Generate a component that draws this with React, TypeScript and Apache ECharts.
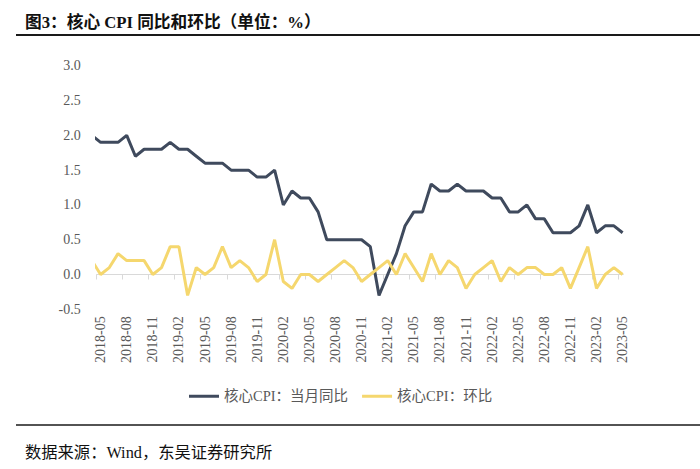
import React, { useEffect, useRef } from "react";
import * as echarts from "echarts";

// ---- data ----
const MONTHS = [
  "2018-04", "2018-05", "2018-06", "2018-07", "2018-08", "2018-09", "2018-10", "2018-11", "2018-12",
  "2019-01", "2019-02", "2019-03", "2019-04", "2019-05", "2019-06", "2019-07", "2019-08", "2019-09", "2019-10", "2019-11", "2019-12",
  "2020-01", "2020-02", "2020-03", "2020-04", "2020-05", "2020-06", "2020-07", "2020-08", "2020-09", "2020-10", "2020-11", "2020-12",
  "2021-01", "2021-02", "2021-03", "2021-04", "2021-05", "2021-06", "2021-07", "2021-08", "2021-09", "2021-10", "2021-11", "2021-12",
  "2022-01", "2022-02", "2022-03", "2022-04", "2022-05", "2022-06", "2022-07", "2022-08", "2022-09", "2022-10", "2022-11", "2022-12",
  "2023-01", "2023-02", "2023-03", "2023-04", "2023-05",
];

const CORE_YOY = [
  2.0, 1.9, 1.9, 1.9, 2.0, 1.7, 1.8, 1.8, 1.8,
  1.9, 1.8, 1.8, 1.7, 1.6, 1.6, 1.6, 1.5, 1.5, 1.5, 1.4, 1.4,
  1.5, 1.0, 1.2, 1.1, 1.1, 0.9, 0.5, 0.5, 0.5, 0.5, 0.5, 0.4,
  -0.3, 0.0, 0.3, 0.7, 0.9, 0.9, 1.3, 1.2, 1.2, 1.3, 1.2, 1.2,
  1.2, 1.1, 1.1, 0.9, 0.9, 1.0, 0.8, 0.8, 0.6, 0.6, 0.6, 0.7,
  1.0, 0.6, 0.7, 0.7, 0.6,
];

const CORE_MOM = [
  0.2, 0.0, 0.1, 0.3, 0.2, 0.2, 0.2, 0.0, 0.1,
  0.4, 0.4, -0.3, 0.1, 0.0, 0.1, 0.4, 0.1, 0.2, 0.1, -0.1, 0.0,
  0.5, -0.1, -0.2, 0.0, 0.0, -0.1, 0.0, 0.1, 0.2, 0.1, -0.1, 0.0,
  0.1, 0.2, 0.0, 0.3, 0.1, -0.1, 0.3, 0.0, 0.2, 0.1, -0.2, 0.0,
  0.1, 0.2, -0.1, 0.1, 0.0, 0.1, 0.1, 0.0, 0.0, 0.1, -0.2, 0.1,
  0.4, -0.2, 0.0, 0.1, 0.0,
];

const X_LABELS = [
  "2018-05", "2018-08", "2018-11", "2019-02", "2019-05", "2019-08", "2019-11",
  "2020-02", "2020-05", "2020-08", "2020-11", "2021-02", "2021-05", "2021-08",
  "2021-11", "2022-02", "2022-05", "2022-08", "2022-11", "2023-02", "2023-05",
];

const SERIES_NAMES = ["核心CPI：当月同比", "核心CPI：环比"];
const TITLE = "图3：核心 CPI 同比和环比（单位：%）";
const SOURCE = "数据来源：Wind，东吴证券研究所";

const Y_MIN = -0.5;
const Y_MAX = 3.0;
const Y_STEP = 0.5;

// ---- styles ----
const FONT = '"Liberation Serif", "Noto Sans CJK SC", serif';
const NAVY = "#3f4a5d";
const YELLOW = "#f5d76e";
const AXIS_GREY = "#d9d9d9";
const LABEL_GREY = "#595959";

// x position: index relative to 2018-05
const xOf = (m: string) => MONTHS.indexOf(m) - 1;
const X_MIN = -0.45;
const X_MAX = 60.08;

export default function App() {
  const ref = useRef<HTMLDivElement>(null);

  useEffect(() => {
    if (!ref.current) return;
    const chart = echarts.init(ref.current, undefined, { renderer: "svg" });

    const labelVals = X_LABELS.map(xOf);
    const tickVals = [X_MIN, ...labelVals.slice(1).map((v) => v - 0.5)];

    const option: any = {
      animation: false,
      textStyle: { fontFamily: FONT },
      grid: { left: 96.7, right: 76.7, top: 65.8, bottom: 159.7, containLabel: false },
      xAxis: [
        {
          type: "value",
          min: X_MIN,
          max: X_MAX,
          axisLine: { show: true, onZero: true, lineStyle: { color: AXIS_GREY, width: 1 } },
          axisTick: { show: true, length: 5, lineStyle: { color: AXIS_GREY }, customValues: tickVals },
          axisLabel: { show: false },
          splitLine: { show: false },
        },
        {
          type: "value",
          min: X_MIN,
          max: X_MAX,
          position: "bottom",
          axisLine: { show: false, onZero: false },
          axisTick: { show: false },
          splitLine: { show: false },
          axisLabel: {
            show: true,
            rotate: 90,
            margin: 7,
            customValues: labelVals,
            formatter: (v: number) => MONTHS[Math.round(v) + 1] ?? "",
            color: LABEL_GREY,
            fontSize: 14,
            fontFamily: FONT,
          },
        },
      ],
      yAxis: {
        type: "value",
        min: Y_MIN,
        max: Y_MAX,
        interval: Y_STEP,
        axisLine: { show: false },
        axisTick: { show: false },
        splitLine: { show: false },
        axisLabel: {
          formatter: (v: number) => v.toFixed(1),
          color: LABEL_GREY,
          fontSize: 14,
          margin: 16,
          fontFamily: FONT,
        },
      },
      legend: {
        left: 184,
        top: 384,
        icon: "rect",
        itemWidth: 30,
        itemHeight: 3,
        itemGap: 14,
        data: SERIES_NAMES,
        textStyle: { color: LABEL_GREY, fontSize: 14.5, fontFamily: FONT },
      },
      graphic: [
        {
          type: "text",
          x: 25,
          y: 22,
          style: { text: TITLE, font: `bold 16.7px ${FONT}`, fill: "#111111", verticalAlign: "middle" },
        },
        {
          type: "line",
          shape: { x1: 16, y1: 35, x2: 700, y2: 35 },
          style: { stroke: "#1a1a1a", lineWidth: 2 },
        },
        {
          type: "line",
          shape: { x1: 16, y1: 425, x2: 700, y2: 425 },
          style: { stroke: "#1a1a1a", lineWidth: 1.5 },
        },
        {
          type: "text",
          x: 25,
          y: 452,
          style: { text: SOURCE, font: `16.3px ${FONT}`, fill: "#111111", verticalAlign: "middle" },
        },
      ],
      series: [
        {
          name: SERIES_NAMES[0],
          type: "line",
          xAxisIndex: 0,
          data: MONTHS.map((m, i) => [xOf(m), CORE_YOY[i]]),
          symbol: "none",
          clip: true,
          lineStyle: { color: NAVY, width: 3 },
          itemStyle: { color: NAVY },
        },
        {
          name: SERIES_NAMES[1],
          type: "line",
          xAxisIndex: 0,
          data: MONTHS.map((m, i) => [xOf(m), CORE_MOM[i]]),
          symbol: "none",
          clip: true,
          lineStyle: { color: YELLOW, width: 3 },
          itemStyle: { color: YELLOW },
        },
      ],
    };

    chart.setOption(option);
    return () => chart.dispose();
  }, []);

  return (
    <div
      ref={ref}
      style={{ position: "absolute", left: 0, top: 0, width: 700, height: 469, background: "#ffffff" }}
    />
  );
}
